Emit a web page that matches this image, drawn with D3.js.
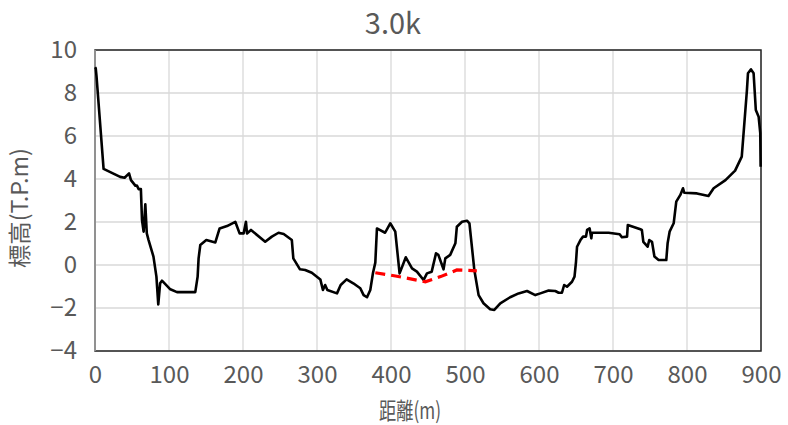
<!DOCTYPE html>
<html>
<head>
<meta charset="utf-8">
<script src="https://cdn.jsdelivr.net/npm/d3@7"></script>
<style>
  body { margin: 0; background: #fff; }
  text { font-family: "Noto Sans CJK JP", "Noto Sans", sans-serif; fill: #595959; }
</style>
</head>
<body>
<div id="chart"></div>
<script>
// cross section 3.0k : distance (m) vs elevation (T.P.m)
var distance = [0, 1, 2, 11.6, 34, 40, 46, 48.6, 54.5, 56.5, 59, 62, 63.5, 65.7, 68, 70, 72.4, 79, 83, 85.5,
  88, 90.5, 101.8, 110.8, 135.5, 138.7, 140, 142.3, 150.4, 162.6, 168.4, 178.4, 189.6, 195.4, 200.8, 204, 205.4,
  210.8, 230, 239, 248, 255, 266, 268, 277, 284, 293, 304.5, 308, 311, 314, 327, 332, 340, 349, 358.5, 363, 367.6,
  372, 375.7, 378.8, 381, 392, 399, 405.8, 411.6, 420, 428.4, 435, 444, 448.6, 455, 460.8, 464, 471, 473.4, 480,
  487, 489, 496, 502.7, 506, 512.6, 518.4, 525, 534, 539.6, 547.7, 561, 572.4, 583.8, 595, 601.8, 613, 622, 626.5,
  631, 634, 637.8, 644.6, 648, 650, 651.4, 656, 659.5, 663.5, 665, 668.4, 670.7, 671.6, 694, 709, 712, 719, 720,
  737, 739, 741, 746.8, 749, 752.7, 756, 761.6, 772, 773.8, 776.5, 782, 785.5, 791, 794.6, 796.3, 813.5, 829, 836,
  852, 865, 874, 881, 882.4, 886.5, 890, 893, 896.8, 899, 899.5];
var elevation = [9.2, 9.15, 8.8, 4.47, 4.1, 4.06, 4.26, 3.95, 3.69, 3.7, 3.53, 3.53, 2.09, 1.55, 2.82, 1.47, 1.16, 0.39, -0.54, -1.83,
  -0.85, -0.73, -1.13, -1.26, -1.26, -0.54, 0.31, 0.93, 1.16, 1.05, 1.7, 1.81, 2.01, 1.47, 1.47, 2.01, 1.47,
  1.63, 1.08, 1.32, 1.5, 1.44, 1.16, 0.31, -0.2, -0.23, -0.36, -0.67, -1.16, -0.93, -1.16, -1.32, -0.93, -0.67, -0.85, -1.08, -1.4, -1.5,
  -1.16, -0.36, 0.11, 1.7, 1.5, 1.94, 1.55, -0.39, 0.36, -0.16, -0.31, -0.7, -0.39, -0.31, 0.54, 0.47, -0.2, 0.31, 0.47,
  1.01, 1.78, 2.01, 2.06, 1.94, -0.23, -1.4, -1.78, -2.06, -2.09, -1.78, -1.5, -1.32, -1.21, -1.4, -1.32, -1.19, -1.21, -1.29,
  -1.29, -0.93, -1.01, -0.78, -0.54, 0.15, 0.85, 1.16, 1.32, 1.32, 1.63, 1.7, 1.24, 1.5, 1.5, 1.43, 1.29, 1.32, 1.86,
  1.66, 1.63, 1.08, 0.85, 1.16, 1.08, 0.39, 0.23, 0.23, 1.01, 1.55, 1.94, 2.95, 3.26, 3.57, 3.36, 3.33, 3.21, 3.57,
  3.95, 4.39, 5.04, 8.14, 8.92, 9.1, 8.92, 7.21, 6.9, 6.13, 4.57];

// dashed red line (planned bed)
var planDistance = [378.8, 406, 446.4, 467, 489, 516];
var planElevation = [-0.36, -0.51, -0.78, -0.54, -0.23, -0.27];

var xTicks = [0, 100, 200, 300, 400, 500, 600, 700, 800, 900];
var yTicks = [-4, -2, 0, 2, 4, 6, 8, 10];

var margin = { top: 50, left: 95, right: 27, bottom: 74 },
  width = 788 - margin.left - margin.right,
  height = 425 - margin.top - margin.bottom;

var svgRoot = d3.select("#chart")
  .append("svg")
  .attr("width", 788)
  .attr("height", 425);

var svg = svgRoot.append("g")
  .attr("transform", "translate(" + margin.left + "," + margin.top + ")");

var xPositionScale = d3.scaleLinear().domain([0, 900]).range([0, width]);
var yPositionScale = d3.scaleLinear().domain([-4, 10]).range([height, 0]);

// gridlines
svg.append("g")
  .selectAll("line.vgrid")
  .data(xTicks)
  .enter().append("line")
  .attr("x1", function(d) { return xPositionScale(d); })
  .attr("x2", function(d) { return xPositionScale(d); })
  .attr("y1", 0)
  .attr("y2", height)
  .attr("stroke", "#d9d9d9")
  .attr("stroke-width", 1.3);

svg.append("g")
  .selectAll("line.hgrid")
  .data(yTicks)
  .enter().append("line")
  .attr("x1", 0)
  .attr("x2", width)
  .attr("y1", function(d) { return yPositionScale(d); })
  .attr("y2", function(d) { return yPositionScale(d); })
  .attr("stroke", "#d9d9d9")
  .attr("stroke-width", 1.3);

// frame
svg.append("rect")
  .attr("width", width)
  .attr("height", height)
  .attr("fill", "none")
  .attr("stroke", "#262626")
  .attr("stroke-width", 1.5);

svg.append("line")
  .attr("x1", 0).attr("x2", 0)
  .attr("y1", 0).attr("y2", height)
  .attr("stroke", "#a6a6a6")
  .attr("stroke-width", 1.5);

var xAxis = d3.axisBottom(xPositionScale).tickValues(xTicks).tickSize(0).tickPadding(15);
svg.append("g")
  .attr("class", "x axis")
  .attr("transform", "translate(0," + height + ")")
  .call(xAxis)
  .call(function(g) { g.select(".domain").remove(); })
  .selectAll("text")
  .attr("font-size", "24px")
  .attr("font-family", "Noto Sans CJK JP")
  .attr("fill", "#595959");

var yAxis = d3.axisLeft(yPositionScale).tickValues(yTicks).tickSize(0).tickPadding(18);
svg.append("g")
  .attr("class", "y axis")
  .call(yAxis)
  .call(function(g) { g.select(".domain").remove(); })
  .selectAll("text")
  .attr("font-size", "24px")
  .attr("font-family", "Noto Sans CJK JP")
  .attr("fill", "#595959");

var ground = distance.map(function(d, i) { return [d, elevation[i]]; });
var plan = planDistance.map(function(d, i) { return [d, planElevation[i]]; });

var line = d3.line()
  .x(function(d) { return xPositionScale(d[0]); })
  .y(function(d) { return yPositionScale(d[1]); });

svg.append("path")
  .datum(ground)
  .attr("d", line)
  .attr("fill", "none")
  .attr("stroke", "#000")
  .attr("stroke-width", 2.6)
  .attr("stroke-linejoin", "round");

svg.append("path")
  .datum(plan)
  .attr("d", line)
  .attr("fill", "none")
  .attr("stroke", "#ff0000")
  .attr("stroke-width", 3.2)
  .attr("stroke-dasharray", "10,6");

// titles
svgRoot.append("text")
  .attr("x", 393)
  .attr("y", 34)
  .attr("text-anchor", "middle")
  .attr("font-size", "29px")
  .text("3.0k");

svgRoot.append("text")
  .attr("x", 410)
  .attr("y", 419)
  .attr("text-anchor", "middle")
  .attr("font-size", "23px")
  .attr("textLength", 62)
  .attr("lengthAdjust", "spacingAndGlyphs")
  .text("距離(m)");

svgRoot.append("text")
  .attr("transform", "translate(28,208) rotate(-90)")
  .attr("text-anchor", "middle")
  .attr("font-size", "23px")
  .attr("textLength", 120)
  .attr("lengthAdjust", "spacingAndGlyphs")
  .text("標高(T.P.m)");
</script>
</body>
</html>
